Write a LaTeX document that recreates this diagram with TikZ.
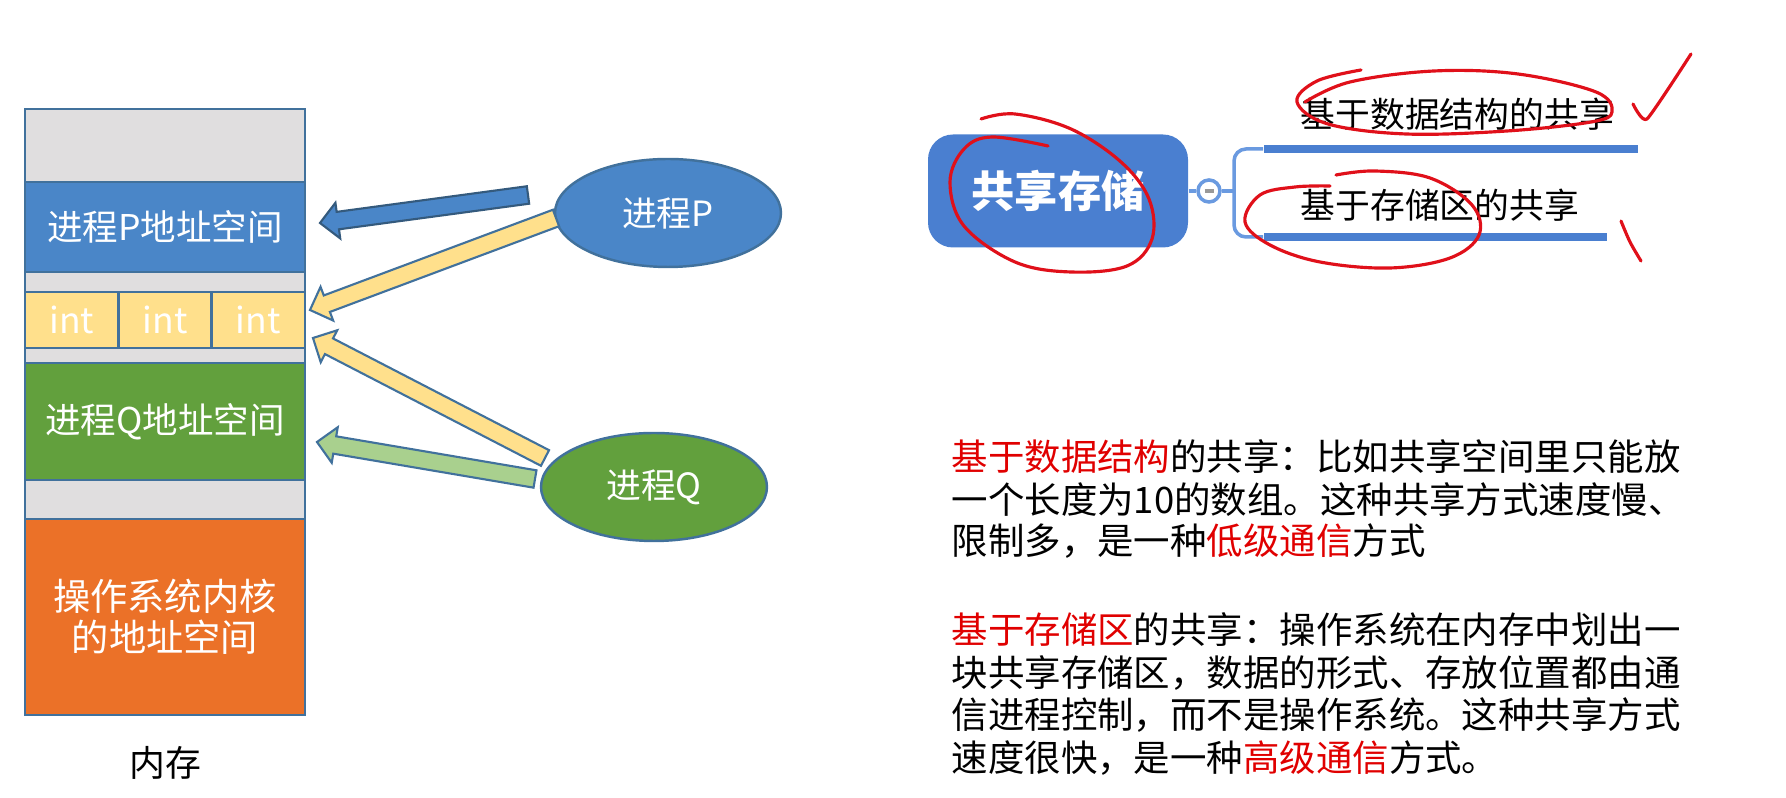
\documentclass[tikz,border=0pt]{standalone}
\usepackage{fontspec}
\setmainfont{Noto Sans CJK SC}
\usepackage{xcolor}
\usepackage{tikz}
\usetikzlibrary{shapes.geometric, positioning, calc}
\definecolor{memGray}{HTML}{E0DEDF}
\definecolor{memEdge}{HTML}{41719C}
\definecolor{procBlue}{HTML}{4A86C8}
\definecolor{procGreen}{HTML}{62A03D}
\definecolor{kernOrange}{HTML}{EB7128}
\definecolor{intYellow}{HTML}{FFE08C}
\definecolor{arrowGreen}{HTML}{A9D08E}
\definecolor{mapBlue}{HTML}{4A7FD0}
\definecolor{mapLine}{HTML}{6A9AE0}
\definecolor{penRed}{HTML}{E0101A}
\definecolor{markRed}{HTML}{E00000}

% block arrow: tail, tip, fill, edge
\newcommand{\fatarrow}[4]{%
  \draw[draw=#4,fill=#3,line width=0.6pt,line join=miter]
    let \p1=($(#1)-(#2)$), \n1={atan2(\y1,\x1)} in
    ($(#1)+(\n1+90:0.088)$) -- ($(#2)+(\n1:0.18)+(\n1+90:0.088)$)
    -- ($(#2)+(\n1:0.18)+(\n1+90:0.18)$) -- (#2)
    -- ($(#2)+(\n1:0.18)+(\n1-90:0.18)$) -- ($(#2)+(\n1:0.18)+(\n1-90:0.088)$)
    -- ($(#1)+(\n1-90:0.088)$) -- cycle;}

\begin{document}
\begin{tikzpicture}[
 mem/.style={rectangle,draw=memEdge,line width=0.7pt,minimum width=2.8cm,inner sep=0pt,
 outer sep=0pt,text=white,font=\fontsize{10.1}{12}\selectfont},
 cell/.style={mem,minimum width=0.9333cm,minimum height=0.56cm,fill=intYellow},
 proc/.style={ellipse,draw=memEdge,line width=0.7pt,minimum width=2.26cm,minimum height=1.08cm,
 inner sep=0pt,text=white,font=\fontsize{9.9}{12}\selectfont},
 ink/.style={penRed,line width=0.9pt,line cap=round,line join=round},
 para/.style={anchor=base west,inner sep=0pt,font=\fontsize{10.37}{12}\selectfont},
 branch/.style={anchor=west,inner sep=0pt,font=\fontsize{9.9}{12}\selectfont},
 bar/.style={rectangle,fill=mapBlue,minimum height=0.08cm,inner sep=0pt,anchor=west},
 link/.style={mapLine,line width=1pt}]
\useasboundingbox (0,0) rectangle (17.86,-7.98);

% memory column
\node[mem,fill=memGray,minimum height=0.73cm,anchor=north] (free1) at (1.65,-1.09) {};
\node[mem,fill=procBlue,minimum height=0.90cm,below=0pt of free1] (pspace) {进程P地址空间};
\node[mem,fill=memGray,minimum height=0.20cm,below=0pt of pspace] (free2) {};
\node[cell,anchor=north west] (int1) at (free2.south west) {int};
\node[cell,right=0pt of int1] (int2) {int};
\node[cell,right=0pt of int2] (int3) {int};
\node[mem,fill=memGray,minimum height=0.15cm,below=0.56cm of free2] (free3) {};
\node[mem,fill=procGreen,minimum height=1.17cm,below=0pt of free3] (qspace) {进程Q地址空间};
\node[mem,fill=memGray,minimum height=0.39cm,below=0pt of qspace] (free4) {};
\node[mem,fill=kernOrange,minimum height=1.96cm,below=0pt of free4,align=center,
 font=\fontsize{10.6}{11.7}\selectfont] (kernel) {操作系统内核\\的地址空间};
\node[font=\fontsize{10.2}{12}\selectfont] (memlabel) at (1.65,-7.63) {内存};

% processes
\node[proc,fill=procBlue] (procP) at (6.68,-2.13) {进程P};
\node[proc,fill=procGreen] (procQ) at (6.54,-4.87) {进程Q};

\coordinate (bTail) at (5.28,-1.95);
\coordinate (bTip) at (3.20,-2.23);
\coordinate (yPTail) at (5.56,-2.18);
\coordinate (yPTip) at (3.10,-3.10);
\coordinate (yQTail) at (5.45,-4.58);
\coordinate (yQTip) at (3.13,-3.38);
\coordinate (gTail) at (5.35,-4.79);
\coordinate (gTip) at (3.17,-4.42);
\fatarrow{bTail}{bTip}{procBlue}{memEdge!80!black}
\fatarrow{yPTail}{yPTip}{intYellow}{memEdge}
\fatarrow{yQTail}{yQTip}{intYellow}{memEdge}
\fatarrow{gTail}{gTip}{arrowGreen}{memEdge}

% mind map
\node[rectangle,rounded corners=0.25cm,fill=mapBlue,minimum width=2.6cm,minimum height=1.13cm,
 text=white,font=\bfseries\fontsize{12.3}{14}\selectfont] (root) at (10.58,-1.91) {共享存储};
\node[circle,draw=mapLine,fill=white,line width=1pt,minimum size=0.22cm,inner sep=0pt] (fold) at (12.09,-1.91) {};
\draw[gray!80,line width=1.4pt] ($(fold)+(-0.045,0)$) -- ($(fold)+(0.045,0)$);
\coordinate (fork) at (12.34,-1.91);
\node[bar,minimum width=3.74cm] (barTop) at (12.63,-1.49) {};
\node[bar,minimum width=3.43cm] (barBot) at (12.63,-2.37) {};
\draw[link] (root.east) -- (fold.west);
\draw[link] (fold.east) -- (fork);
\draw[link,rounded corners=0.12cm] (barTop.west) -| (fork) |- (barBot.west);
\node[branch] (byData) at (13.0,-1.14) {基于数据结构的共享};
\node[branch] (byArea) at (13.0,-2.05) {基于存储区的共享};

% notes
\node[para] (n1) at (9.51,-4.71) {\textcolor{markRed}{基于数据结构}的共享：比如共享空间里只能放};
\node[para] (n2) at (9.51,-5.14) {一个长度为10的数组。这种共享方式速度慢、};
\node[para] (n3) at (9.51,-5.55) {限制多，是一种\textcolor{markRed}{低级通信}方式};
\node[para] (n4) at (9.51,-6.44) {\textcolor{markRed}{基于存储区}的共享：操作系统在内存中划出一};
\node[para] (n5) at (9.51,-6.865) {块共享存储区，数据的形式、存放位置都由通};
\node[para] (n6) at (9.51,-7.29) {信进程控制，而不是操作系统。这种共享方式};
\node[para] (n7) at (9.51,-7.715) {速度很快，是一种\textcolor{markRed}{高级通信}方式。};

% pen marks
\draw[ink] plot[smooth,tension=0.6] coordinates {(9.81,-1.19) (10.15,-1.14) (10.71,-1.29)
 (11.21,-1.62) (11.49,-1.99) (11.52,-2.39) (11.27,-2.66) (10.71,-2.72) (10.15,-2.62)
 (9.64,-2.26) (9.50,-1.82) (9.64,-1.49) (9.92,-1.37) (10.48,-1.46)};
\draw[ink] plot[smooth,tension=0.6] coordinates {(13.61,-0.70) (13.17,-0.81) (12.97,-1.02)
 (13.28,-1.24) (14.06,-1.34) (15.07,-1.31) (15.91,-1.22) (16.12,-1.12) (15.96,-0.92)
 (15.18,-0.74) (14.34,-0.71) (13.50,-0.82) (13.05,-1.02)};
\draw[ink] plot[smooth,tension=0.3] coordinates {(16.33,-1.04) (16.47,-1.19) (16.91,-0.54)};
\draw[ink] plot[smooth,tension=0.6] coordinates {(13.36,-1.75) (13.75,-1.71) (14.3,-1.78)
 (14.72,-2.05) (14.79,-2.35) (14.5,-2.58) (13.9,-2.68) (13.2,-2.62) (12.7,-2.45)
 (12.45,-2.22) (12.6,-1.95) (12.95,-1.87) (13.3,-1.86)};
\draw[ink] plot[smooth,tension=0.5] coordinates {(16.21,-2.21) (16.30,-2.42) (16.41,-2.61)};
\end{tikzpicture}
\end{document}
